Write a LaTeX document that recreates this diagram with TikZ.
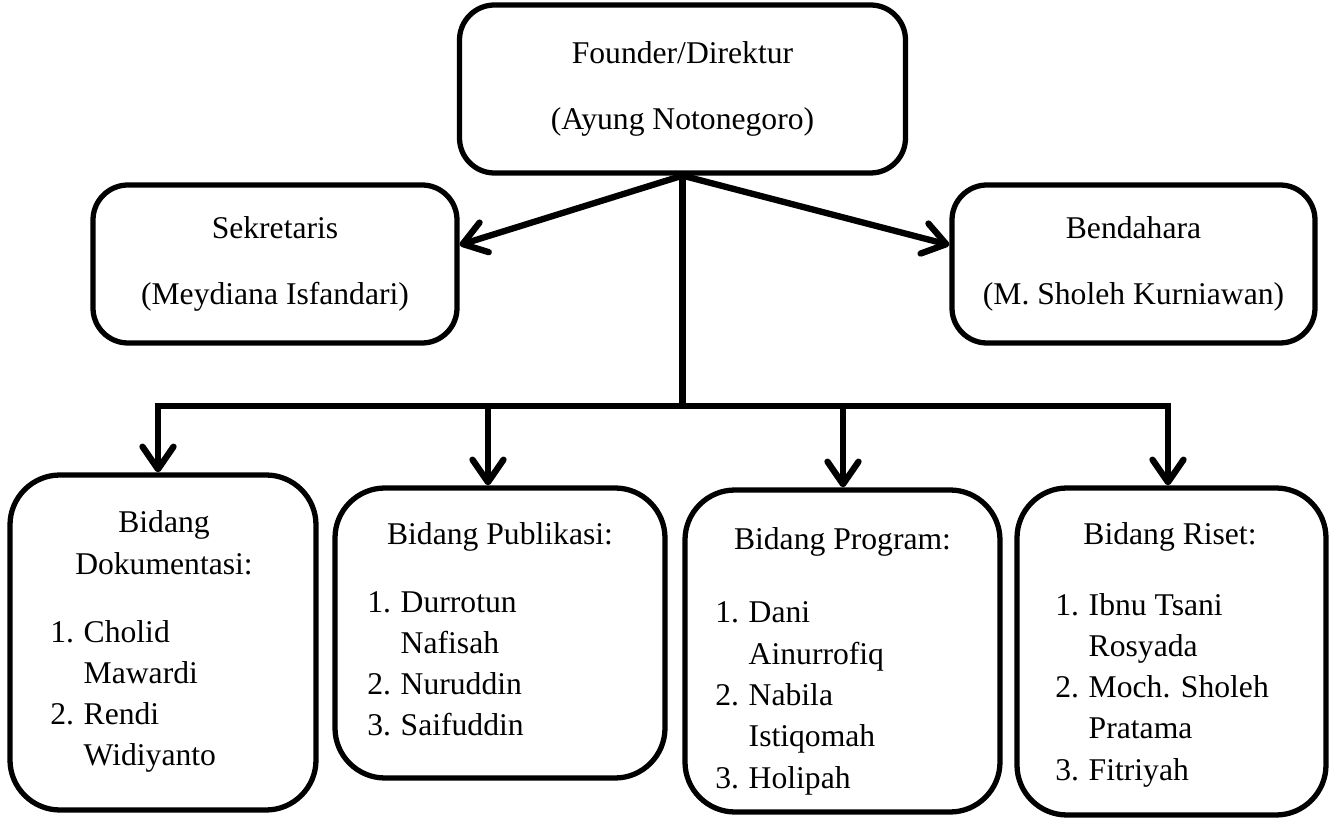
\documentclass[tikz,border=0pt]{standalone}
\usepackage{fontspec}
\setmainfont{Liberation Serif}
\usepackage{tikz}
\usetikzlibrary{arrows.meta, positioning}

\begin{document}
\begin{tikzpicture}[
    font=\fontsize{18}{23.5}\selectfont,
    unit/.style={draw, line width=3pt, rounded corners=0.7cm, align=center},
    bidang/.style={draw, line width=3pt, rounded corners=1cm},
    txt/.style={inner sep=0pt},
    link/.style={line width=3.6pt, line cap=rect},
    arrowed/.style={link, -{Straight Barb[length=0.45cm, width=0.62cm, round]}},
]
    \useasboundingbox (0,0) rectangle (26.72,-16.46);
    % Pimpinan
    \node[unit, minimum width=8.92cm, minimum height=3.36cm] (founder) at (13.65,-1.78) {Founder/Direktur\\[14pt](Ayung Notonegoro)};
    \node[unit, minimum width=7.28cm, minimum height=3.16cm] (sekretaris) at (5.5,-5.28) {Sekretaris\\[14pt](Meydiana Isfandari)};
    \node[unit, minimum width=7.26cm, minimum height=3.16cm] (bendahara) at (22.67,-5.28) {Bendahara\\[14pt](M. Sholeh Kurniawan)};

    % Bidang boxes
    \node[bidang, minimum width=6.12cm, minimum height=6.7cm] (dokumentasi) at (3.26,-12.85) {};
    \node[bidang, minimum width=6.6cm, minimum height=5.8cm] (publikasi) at (10.0,-12.66) {};
    \node[bidang, minimum width=6.3cm, minimum height=6.44cm] (program) at (16.85,-13.02) {};
    \node[bidang, minimum width=6.18cm, minimum height=6.54cm] (riset) at (23.43,-13.03) {};

    \node[txt, anchor=base] (dokumentasi-hd) at (3.28,-10.66) {\begin{tabular}[t]{@{}c@{}}Bidang\\Dokumentasi:\end{tabular}};
    \node[txt, anchor=base] (publikasi-hd) at (10.0,-10.9) {Bidang Publikasi:};
    \node[txt, anchor=base] (program-hd) at (16.85,-11.0) {Bidang Program:};
    \node[txt, anchor=base] (riset-hd) at (23.4,-10.9) {Bidang Riset:};

    \node[txt, anchor=base west] (dokumentasi-ls) at (1.0,-12.84) {\begin{tabular}[t]{@{}l@{\hspace{5.5pt}}l@{}}1. & Cholid\\ & Mawardi\\ 2. & Rendi\\ & Widiyanto\end{tabular}};
    \node[txt, anchor=base west] (publikasi-ls) at (7.34,-12.24) {\begin{tabular}[t]{@{}l@{\hspace{5.5pt}}l@{}}1. & Durrotun\\ & Nafisah\\ 2. & Nuruddin\\ 3. & Saifuddin\end{tabular}};
    \node[txt, anchor=base west] (program-ls) at (14.3,-12.46) {\begin{tabular}[t]{@{}l@{\hspace{5.5pt}}l@{}}1. & Dani\\ & Ainurrofiq\\ 2. & Nabila\\ & Istiqomah\\ 3. & Holipah\end{tabular}};
    \node[txt, anchor=base west] (riset-ls) at (21.1,-12.3) {\begin{tabular}[t]{@{}l@{\hspace{5.5pt}}l@{}}1. & Ibnu Tsani\\ & Rosyada\\ 2. & Moch. Sholeh\\ & Pratama\\ 3. & Fitriyah\end{tabular}};

    % Garis komando
    \coordinate (hub) at (founder.south |- 0,-8.12);
    \coordinate (b1) at (3.16,-8.12);
    \coordinate (b2) at (9.76,-8.12);
    \coordinate (b3) at (16.86,-8.12);
    \coordinate (b4) at (23.36,-8.12);
    \draw[link] (founder.south) -- (hub);
    \draw[arrowed] (founder.south) -- ([yshift=0.38cm]sekretaris.east);
    \draw[arrowed] (founder.south) -- ([yshift=0.38cm]bendahara.west);
    \draw[link] (b1) -- (b4);
    \draw[arrowed] (b1) -- (b1 |- dokumentasi.north);
    \draw[arrowed] (b2) -- (b2 |- publikasi.north);
    \draw[arrowed] (b3) -- (b3 |- program.north);
    \draw[arrowed] (b4) -- (b4 |- riset.north);
\end{tikzpicture}
\end{document}
